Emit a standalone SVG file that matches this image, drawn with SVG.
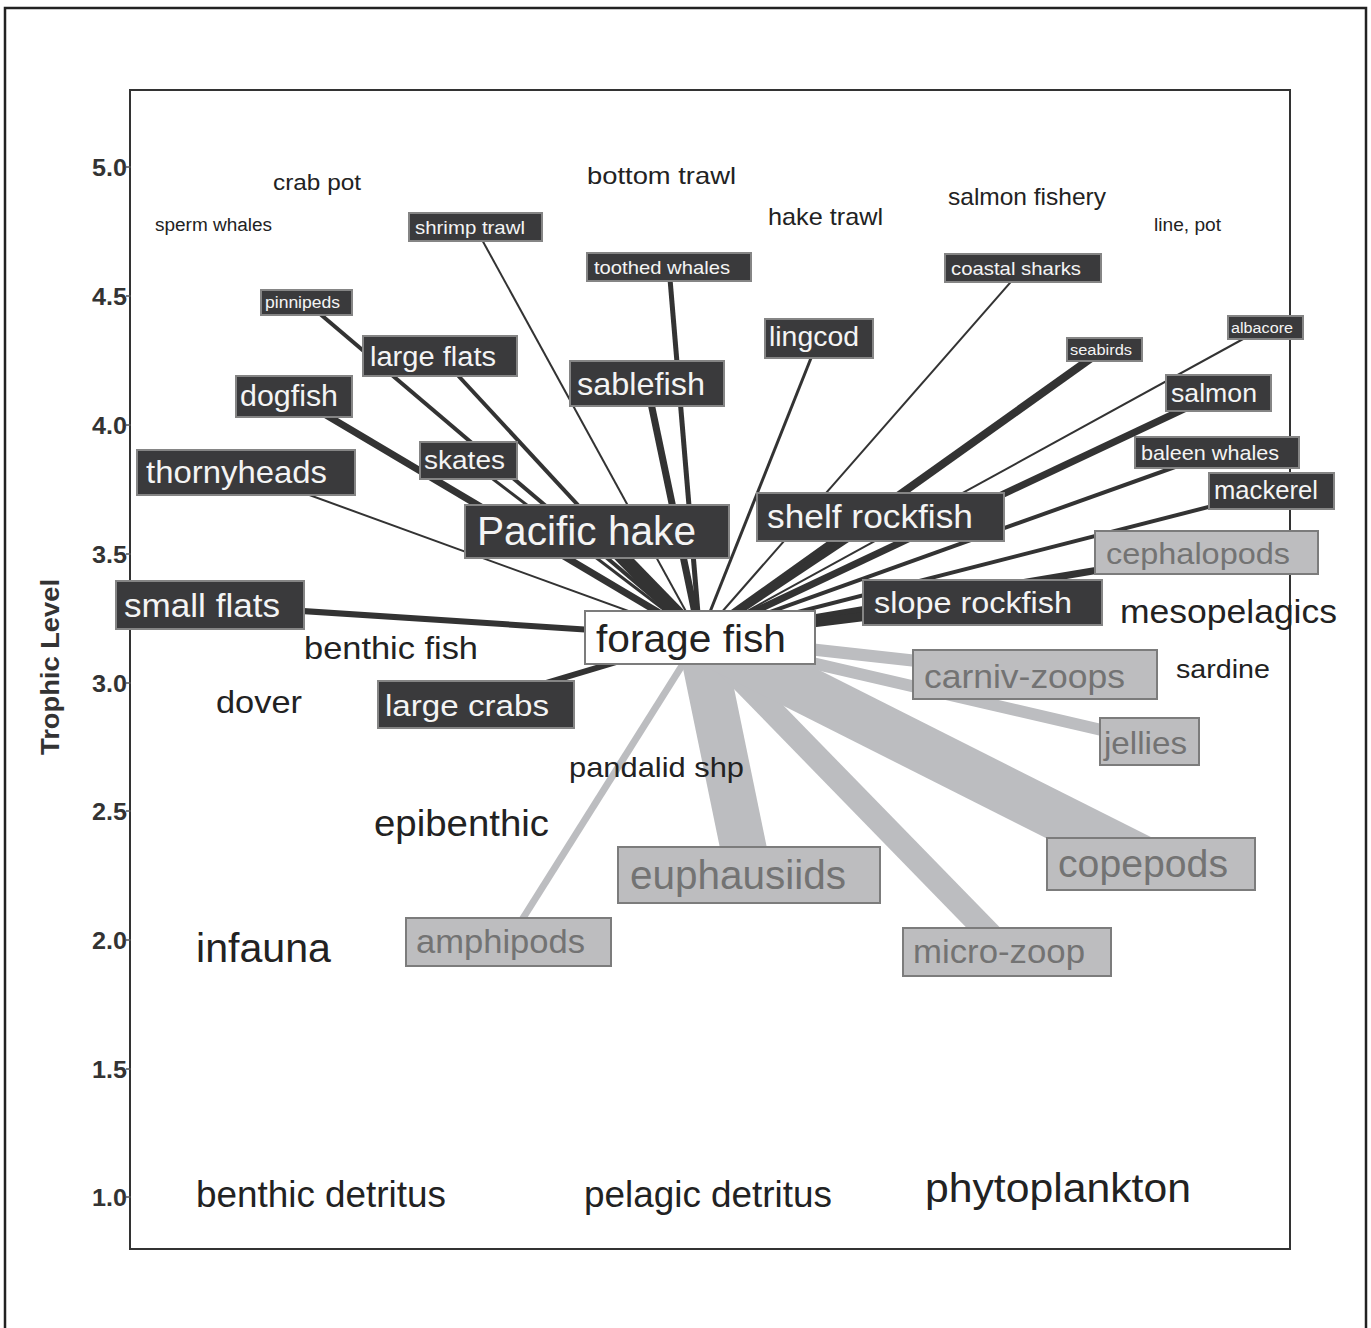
<svg xmlns="http://www.w3.org/2000/svg" width="1371" height="1328" viewBox="0 0 1371 1328">
<style>
text{font-family:"Liberation Sans",Arial,sans-serif}
.dk rect{fill:#3a3a3c;stroke:#858585;stroke-width:2}
.dk text{fill:#f4f4f4}
.lt rect{fill:#bdbdbf;stroke:#7c7c7c;stroke-width:2}
.lt text{fill:#737373}
.pl text{fill:#222}
.tk{font-weight:bold;fill:#333;font-size:24px;text-anchor:end}
.dl{stroke:#333;fill:none;stroke-linecap:butt}
.ll{stroke:#bcbdc0;fill:none;stroke-linecap:butt}
</style>
<rect x="0" y="0" width="1371" height="1328" fill="#fff"/>
<rect x="5" y="8" width="1361" height="1340" fill="none" stroke="#222" stroke-width="2.5"/>
<g id="axes">
<rect x="130" y="90" width="1160" height="1159" fill="none" stroke="#333" stroke-width="2"/>
<g stroke="#555" stroke-width="1.5">
<line x1="126" y1="167" x2="131" y2="167"/><line x1="126" y1="296" x2="131" y2="296"/><line x1="126" y1="425" x2="131" y2="425"/><line x1="126" y1="554" x2="131" y2="554"/><line x1="126" y1="683" x2="131" y2="683"/><line x1="126" y1="811" x2="131" y2="811"/><line x1="126" y1="940" x2="131" y2="940"/><line x1="126" y1="1069" x2="131" y2="1069"/><line x1="126" y1="1197" x2="131" y2="1197"/>
</g>
<text class="tk" x="127" y="176" textLength="35" lengthAdjust="spacingAndGlyphs">5.0</text>
<text class="tk" x="127" y="305" textLength="35" lengthAdjust="spacingAndGlyphs">4.5</text>
<text class="tk" x="127" y="434" textLength="35" lengthAdjust="spacingAndGlyphs">4.0</text>
<text class="tk" x="127" y="563" textLength="35" lengthAdjust="spacingAndGlyphs">3.5</text>
<text class="tk" x="127" y="692" textLength="35" lengthAdjust="spacingAndGlyphs">3.0</text>
<text class="tk" x="127" y="820" textLength="35" lengthAdjust="spacingAndGlyphs">2.5</text>
<text class="tk" x="127" y="949" textLength="35" lengthAdjust="spacingAndGlyphs">2.0</text>
<text class="tk" x="127" y="1078" textLength="35" lengthAdjust="spacingAndGlyphs">1.5</text>
<text class="tk" x="127" y="1206" textLength="35" lengthAdjust="spacingAndGlyphs">1.0</text>
<text x="0" y="0" transform="translate(59,667) rotate(-90)" text-anchor="middle" font-weight="bold" font-size="25" fill="#333" textLength="176" lengthAdjust="spacingAndGlyphs">Trophic Level</text>
</g>
<g id="connectors">
<line class="ll" x1="700" y1="637" x2="508" y2="942" stroke-width="7"/>
<line class="ll" x1="700" y1="637" x2="749" y2="875" stroke-width="46"/>
<line class="ll" x1="700" y1="637" x2="1007" y2="952" stroke-width="24"/>
<line class="ll" x1="700" y1="637" x2="1151" y2="864" stroke-width="48"/>
<line class="ll" x1="700" y1="637" x2="1035" y2="674" stroke-width="12"/>
<line class="ll" x1="700" y1="637" x2="1149" y2="741" stroke-width="12"/>
<line class="dl" x1="700" y1="637" x2="306" y2="302" stroke-width="4"/>
<line class="dl" x1="700" y1="637" x2="475" y2="227" stroke-width="2"/>
<line class="dl" x1="700" y1="637" x2="669" y2="267" stroke-width="5"/>
<line class="dl" x1="700" y1="637" x2="1023" y2="268" stroke-width="2"/>
<line class="dl" x1="700" y1="637" x2="440" y2="356" stroke-width="4"/>
<line class="dl" x1="700" y1="637" x2="819" y2="338" stroke-width="3"/>
<line class="dl" x1="700" y1="637" x2="1104" y2="349" stroke-width="8"/>
<line class="dl" x1="700" y1="637" x2="1265" y2="327" stroke-width="2"/>
<line class="dl" x1="700" y1="637" x2="294" y2="396" stroke-width="7"/>
<line class="dl" x1="700" y1="637" x2="647" y2="384" stroke-width="7"/>
<line class="dl" x1="700" y1="637" x2="1218" y2="393" stroke-width="7"/>
<line class="dl" x1="700" y1="637" x2="468" y2="460" stroke-width="3"/>
<line class="dl" x1="700" y1="637" x2="246" y2="472" stroke-width="2"/>
<line class="dl" x1="700" y1="637" x2="1217" y2="452" stroke-width="4"/>
<line class="dl" x1="700" y1="637" x2="1271" y2="491" stroke-width="4"/>
<line class="dl" x1="700" y1="637" x2="597" y2="531" stroke-width="14"/>
<line class="dl" x1="700" y1="637" x2="880" y2="517" stroke-width="7"/>
<line class="dl" x1="700" y1="637" x2="1206" y2="552" stroke-width="7"/>
<line class="dl" x1="700" y1="637" x2="210" y2="605" stroke-width="6"/>
<line class="dl" x1="700" y1="637" x2="982" y2="602" stroke-width="9"/>
<line class="dl" x1="700" y1="637" x2="476" y2="704" stroke-width="6"/>
</g>
<g class="pl">
<g id="n-sperm-whales"><text x="155" y="231" font-size="18" textLength="117" lengthAdjust="spacingAndGlyphs">sperm whales</text></g>
<g id="n-crab-pot"><text x="273" y="190" font-size="22" textLength="88" lengthAdjust="spacingAndGlyphs">crab pot</text></g>
<g id="n-bottom-trawl"><text x="587" y="184" font-size="24" textLength="149" lengthAdjust="spacingAndGlyphs">bottom trawl</text></g>
<g id="n-hake-trawl"><text x="768" y="225" font-size="24" textLength="115" lengthAdjust="spacingAndGlyphs">hake trawl</text></g>
<g id="n-salmon-fishery"><text x="948" y="205" font-size="24" textLength="158" lengthAdjust="spacingAndGlyphs">salmon fishery</text></g>
<g id="n-line-pot"><text x="1154" y="231" font-size="19" textLength="67" lengthAdjust="spacingAndGlyphs">line, pot</text></g>
<g id="n-mesopelagics"><text x="1120" y="623" font-size="34" textLength="217" lengthAdjust="spacingAndGlyphs">mesopelagics</text></g>
<g id="n-benthic-fish"><text x="304" y="659" font-size="32" textLength="174" lengthAdjust="spacingAndGlyphs">benthic fish</text></g>
<g id="n-sardine"><text x="1176" y="678" font-size="26" textLength="94" lengthAdjust="spacingAndGlyphs">sardine</text></g>
<g id="n-dover"><text x="216" y="713" font-size="32" textLength="86" lengthAdjust="spacingAndGlyphs">dover</text></g>
<g id="n-pandalid-shp"><text x="569" y="777" font-size="28" textLength="175" lengthAdjust="spacingAndGlyphs">pandalid shp</text></g>
<g id="n-epibenthic"><text x="374" y="836" font-size="36" textLength="175" lengthAdjust="spacingAndGlyphs">epibenthic</text></g>
<g id="n-infauna"><text x="196" y="962" font-size="40" textLength="135" lengthAdjust="spacingAndGlyphs">infauna</text></g>
<g id="n-benthic-detritus"><text x="196" y="1207" font-size="36" textLength="250" lengthAdjust="spacingAndGlyphs">benthic detritus</text></g>
<g id="n-pelagic-detritus"><text x="584" y="1207" font-size="36" textLength="248" lengthAdjust="spacingAndGlyphs">pelagic detritus</text></g>
<g id="n-phytoplankton"><text x="925" y="1202" font-size="40" textLength="266" lengthAdjust="spacingAndGlyphs">phytoplankton</text></g>
</g>
<g class="dk">
<g id="n-shrimp-trawl"><rect x="409" y="213" width="133" height="28"/><text x="415" y="234" font-size="19" textLength="110" lengthAdjust="spacingAndGlyphs">shrimp trawl</text></g>
<g id="n-toothed-whales"><rect x="587" y="253" width="164" height="28"/><text x="594" y="274" font-size="19" textLength="136" lengthAdjust="spacingAndGlyphs">toothed whales</text></g>
<g id="n-coastal-sharks"><rect x="945" y="254" width="156" height="28"/><text x="951" y="275" font-size="19" textLength="130" lengthAdjust="spacingAndGlyphs">coastal sharks</text></g>
<g id="n-pinnipeds"><rect x="261" y="290" width="91" height="25"/><text x="265" y="308" font-size="16" textLength="75" lengthAdjust="spacingAndGlyphs">pinnipeds</text></g>
<g id="n-large-flats"><rect x="363" y="336" width="154" height="40"/><text x="370" y="366" font-size="27" textLength="126" lengthAdjust="spacingAndGlyphs">large flats</text></g>
<g id="n-lingcod"><rect x="765" y="319" width="108" height="39"/><text x="769" y="346" font-size="28" textLength="90" lengthAdjust="spacingAndGlyphs">lingcod</text></g>
<g id="n-seabirds"><rect x="1067" y="338" width="75" height="23"/><text x="1070" y="355" font-size="14" textLength="62" lengthAdjust="spacingAndGlyphs">seabirds</text></g>
<g id="n-albacore"><rect x="1228" y="316" width="75" height="23"/><text x="1231" y="333" font-size="14" textLength="62" lengthAdjust="spacingAndGlyphs">albacore</text></g>
<g id="n-dogfish"><rect x="236" y="376" width="116" height="41"/><text x="240" y="406" font-size="29" textLength="98" lengthAdjust="spacingAndGlyphs">dogfish</text></g>
<g id="n-sablefish"><rect x="570" y="361" width="154" height="45"/><text x="577" y="395" font-size="32" textLength="128" lengthAdjust="spacingAndGlyphs">sablefish</text></g>
<g id="n-salmon"><rect x="1166" y="375" width="105" height="36"/><text x="1171" y="402" font-size="26" textLength="86" lengthAdjust="spacingAndGlyphs">salmon</text></g>
<g id="n-skates"><rect x="420" y="442" width="97" height="37"/><text x="424" y="469" font-size="25" textLength="81" lengthAdjust="spacingAndGlyphs">skates</text></g>
<g id="n-thornyheads"><rect x="137" y="450" width="218" height="45"/><text x="146" y="483" font-size="32" textLength="181" lengthAdjust="spacingAndGlyphs">thornyheads</text></g>
<g id="n-baleen-whales"><rect x="1135" y="437" width="164" height="31"/><text x="1141" y="460" font-size="21" textLength="138" lengthAdjust="spacingAndGlyphs">baleen whales</text></g>
<g id="n-mackerel"><rect x="1209" y="473" width="125" height="36"/><text x="1214" y="499" font-size="25" textLength="104" lengthAdjust="spacingAndGlyphs">mackerel</text></g>
<g id="n-pacific-hake"><rect x="465" y="505" width="264" height="53"/><text x="477" y="545" font-size="40" textLength="219" lengthAdjust="spacingAndGlyphs">Pacific hake</text></g>
<g id="n-shelf-rockfish"><rect x="757" y="493" width="247" height="48"/><text x="767" y="528" font-size="34" textLength="206" lengthAdjust="spacingAndGlyphs">shelf rockfish</text></g>
<g id="n-small-flats"><rect x="116" y="581" width="188" height="48"/><text x="124" y="617" font-size="34" textLength="156" lengthAdjust="spacingAndGlyphs">small flats</text></g>
<g id="n-slope-rockfish"><rect x="863" y="580" width="239" height="45"/><text x="874" y="613" font-size="30" textLength="198" lengthAdjust="spacingAndGlyphs">slope rockfish</text></g>
<g id="n-large-crabs"><rect x="378" y="681" width="196" height="47"/><text x="385" y="716" font-size="30" textLength="164" lengthAdjust="spacingAndGlyphs">large crabs</text></g>
</g>
<g id="n-forage-fish"><rect x="585" y="611" width="230" height="53" fill="#fff" stroke="#7c7c7c" stroke-width="2"/><text x="596" y="652" font-size="38" fill="#222" textLength="190" lengthAdjust="spacingAndGlyphs">forage fish</text></g>
<g class="lt">
<g id="n-cephalopods"><rect x="1095" y="531" width="223" height="43"/><text x="1106" y="564" font-size="30" textLength="184" lengthAdjust="spacingAndGlyphs">cephalopods</text></g>
<g id="n-carniv-zoops"><rect x="913" y="650" width="244" height="49"/><text x="924" y="688" font-size="34" textLength="201" lengthAdjust="spacingAndGlyphs">carniv-zoops</text></g>
<g id="n-jellies"><rect x="1100" y="718" width="99" height="47"/><text x="1104" y="754" font-size="32" textLength="83" lengthAdjust="spacingAndGlyphs">jellies</text></g>
<g id="n-euphausiids"><rect x="618" y="847" width="262" height="56"/><text x="630" y="889" font-size="40" textLength="216" lengthAdjust="spacingAndGlyphs">euphausiids</text></g>
<g id="n-copepods"><rect x="1047" y="838" width="208" height="52"/><text x="1058" y="877" font-size="38" textLength="170" lengthAdjust="spacingAndGlyphs">copepods</text></g>
<g id="n-amphipods"><rect x="406" y="918" width="205" height="48"/><text x="416" y="953" font-size="33" textLength="169" lengthAdjust="spacingAndGlyphs">amphipods</text></g>
<g id="n-micro-zoop"><rect x="903" y="928" width="208" height="48"/><text x="913" y="963" font-size="33" textLength="172" lengthAdjust="spacingAndGlyphs">micro-zoop</text></g>
</g>
</svg>
